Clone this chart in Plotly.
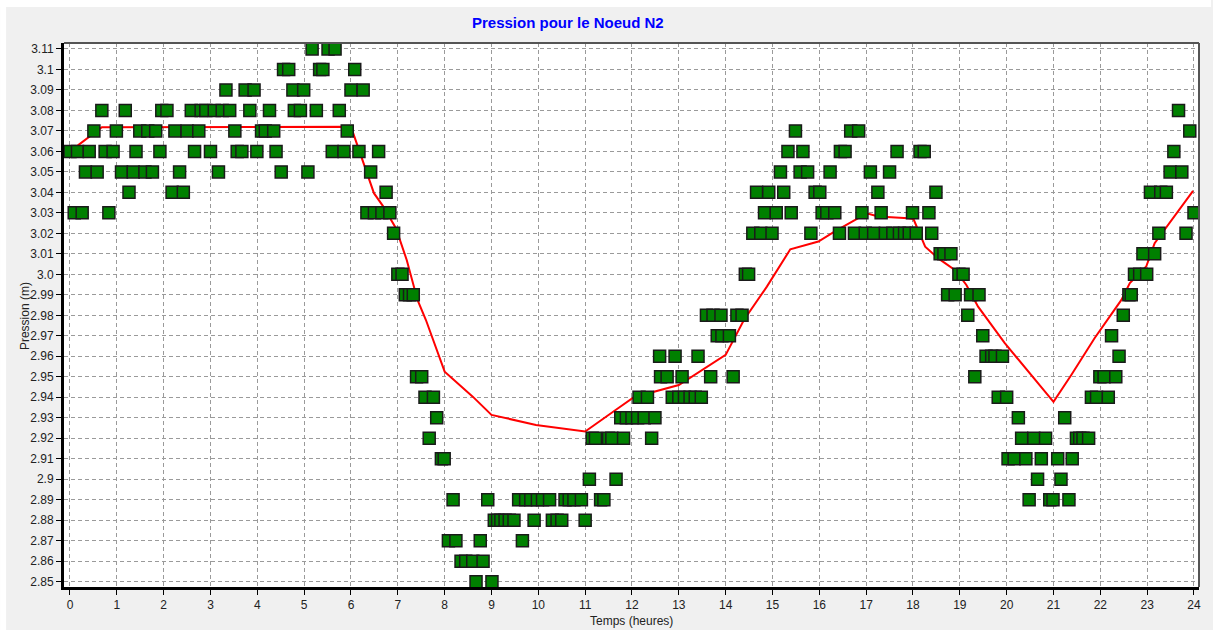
import plotly.graph_objects as go

# Measured pressure levels (m) and the hours at which each level was recorded
levels = [3.11, 3.10, 3.09, 3.08, 3.07, 3.06, 3.05, 3.04, 3.03, 3.02, 3.01, 3.00,
          2.99, 2.98, 2.97, 2.96, 2.95, 2.94, 2.93, 2.92, 2.91, 2.90, 2.89, 2.88,
          2.87, 2.86, 2.85]
hours_311 = [5.17, 5.51, 5.66]
hours_310 = [4.56, 4.67, 5.33, 5.40, 6.08]
hours_309 = [3.33, 3.74, 3.93, 4.76, 4.99, 6.00, 6.26]
hours_308 = [0.68, 1.18, 1.96, 2.07, 2.59, 2.80, 2.90, 3.08, 3.25, 3.41, 3.84, 4.26,
             4.79, 4.92, 5.26, 5.75, 23.67]
hours_307 = [0.51, 0.99, 1.49, 1.66, 1.83, 2.24, 2.50, 2.75, 3.52, 4.09, 4.17, 4.35,
             5.92, 15.49, 16.67, 16.84, 23.91]
hours_306 = [0.0, 0.16, 0.41, 0.75, 0.92, 1.41, 1.92, 2.66, 3.00, 3.57, 3.67, 3.99,
             4.40, 5.60, 5.85, 6.17, 6.59, 15.33, 15.65, 16.45, 16.55, 17.66, 18.15,
             18.24, 23.57]
hours_305 = [0.33, 0.58, 1.10, 1.35, 1.60, 1.76, 2.34, 3.17, 4.51, 5.08, 6.42, 15.17,
             15.59, 15.75, 16.23, 17.09, 17.50, 23.49, 23.74]
hours_304 = [1.26, 2.18, 2.42, 6.75, 14.66, 14.92, 15.24, 15.91, 16.01, 17.25, 18.49,
             23.07, 23.29, 23.41]
hours_303 = [0.09, 0.26, 0.83, 6.34, 6.50, 6.66, 6.83, 14.83, 15.08, 15.40, 16.06,
             16.16, 16.33, 16.91, 17.32, 17.99, 18.34, 24.0]
hours_302 = [6.91, 14.58, 14.75, 14.99, 15.82, 16.43, 16.75, 16.98, 17.16, 17.41,
             17.57, 17.71, 17.82, 17.92, 18.07, 18.40, 23.25, 23.83]
hours_301 = [18.58, 18.66, 18.81, 22.91, 23.16]
hours_300 = [7.00, 7.09, 14.42, 14.49, 18.98, 19.07, 22.73, 22.84, 22.99]
hours_299 = [7.16, 7.25, 7.33, 18.74, 18.90, 19.23, 19.41, 22.61, 22.66]
hours_298 = [13.59, 13.73, 13.90, 14.24, 14.35, 19.17, 22.49]
hours_297 = [13.82, 13.92, 14.08, 19.49, 22.24]
hours_296 = [12.59, 12.92, 13.41, 19.56, 19.68, 19.75, 19.91, 22.40]
hours_295 = [7.40, 7.51, 12.61, 12.75, 13.07, 13.68, 14.16, 19.32, 21.99, 22.08, 22.33]
hours_294 = [7.58, 7.76, 12.15, 12.33, 12.86, 13.00, 13.12, 13.24, 13.35, 13.48,
             19.82, 20.00, 21.81, 21.92, 22.17]
hours_293 = [7.83, 11.76, 11.88, 12.00, 12.12, 12.26, 12.49, 20.25, 21.24]
hours_292 = [7.67, 11.15, 11.22, 11.50, 11.57, 11.82, 12.42, 20.32, 20.58, 20.83,
             21.49, 21.56, 21.63, 21.75]
hours_291 = [7.93, 7.99, 20.03, 20.16, 20.41, 20.74, 21.09, 21.40]
hours_290 = [11.09, 11.66, 20.66, 21.16]
hours_289 = [8.18, 8.92, 9.58, 9.73, 9.84, 9.98, 10.09, 10.24, 10.57, 10.66, 10.76,
             10.92, 11.33, 11.40, 20.48, 20.92, 20.99, 21.33]
hours_288 = [9.06, 9.13, 9.20, 9.29, 9.38, 9.48, 9.91, 10.30, 10.40, 10.50, 11.00]
hours_287 = [8.08, 8.24, 8.76, 9.66]
hours_286 = [8.35, 8.45, 8.60, 8.82]
hours_285 = [8.67, 9.01]

# Simulated pressure curve
sim_t = [0.0, 0.43, 0.68, 6.0, 6.25, 6.49, 6.68, 6.96, 7.19, 7.42, 7.60, 8.0, 8.60,
         9.0, 9.95, 11.0, 11.65, 12.04, 13.0, 13.64, 14.0, 14.39, 14.88, 15.38,
         15.98, 16.34, 16.87, 17.05, 17.26, 17.90, 18.01, 18.26, 18.54, 18.90,
         19.14, 19.39, 19.96, 21.0, 21.38, 21.88, 22.20, 22.45, 22.63, 22.98,
         23.16, 23.66, 23.98]
sim_p = [3.060, 3.0676, 3.0718, 3.072, 3.0558, 3.0396, 3.0334, 3.0225, 3.007,
         2.9875, 2.9777, 2.9525, 2.9403, 2.9314, 2.9265, 2.9233, 2.9338, 2.940,
         2.946, 2.9553, 2.9607, 2.9777, 2.994, 3.0122, 3.016, 3.0211, 3.0279,
         3.0295, 3.0282, 3.0274, 3.027, 3.0135, 3.0078, 3.002, 2.9948, 2.9842,
         2.9664, 2.9378, 2.9509, 2.9689, 2.9794, 2.9875, 2.9957, 3.0038, 3.0152,
         3.0306, 3.0407]

x_ticks = list(range(0, 25))
y_ticks = [round(2.85 + 0.01 * i, 2) for i in range(27)]
y_tick_text = ["2.85", "2.86", "2.87", "2.88", "2.89", "2.9", "2.91", "2.92", "2.93",
               "2.94", "2.95", "2.96", "2.97", "2.98", "2.99", "3.0", "3.01", "3.02",
               "3.03", "3.04", "3.05", "3.06", "3.07", "3.08", "3.09", "3.1", "3.11"]

hour_groups = [hours_311, hours_310, hours_309, hours_308, hours_307, hours_306,
               hours_305, hours_304, hours_303, hours_302, hours_301, hours_300,
               hours_299, hours_298, hours_297, hours_296, hours_295, hours_294,
               hours_293, hours_292, hours_291, hours_290, hours_289, hours_288,
               hours_287, hours_286, hours_285]
obs_t, obs_p = [], []
for lvl, hrs in zip(levels, hour_groups):
    obs_t.extend(hrs)
    obs_p.extend([lvl] * len(hrs))

W, H = 1213, 630
ML, MR, MT, MB = 64, 12, 43, 43
PW, PH = W - ML - MR, H - MT - MB


def px_x(px):
    return (px - ML) / PW


def px_y(py):
    return (H - MB - py) / PH


FONT = "Liberation Sans, Arial, sans-serif"

fig = go.Figure()
fig.add_trace(go.Scatter(
    x=sim_t, y=sim_p, mode="lines",
    line=dict(color="#ff0000", width=2),
    hoverinfo="skip", showlegend=False,
))
fig.add_trace(go.Scatter(
    x=obs_t, y=obs_p, mode="markers",
    marker=dict(symbol="square", size=12, color="#008000",
                line=dict(color="#1a1a1a", width=1.5)),
    showlegend=False,
))

grid = dict(gridcolor="#9a9a9a", gridwidth=1, griddash="4px,3px")

fig.update_xaxes(
    range=[-0.128, 24.107], tickmode="array", tickvals=x_ticks,
    ticks="outside", ticklen=5, tickcolor="#000", tickwidth=1,
    showline=True, linecolor="#000", linewidth=3, zeroline=False,
    tickfont=dict(family=FONT, size=12, color="#222"),
    **grid,
)
fig.update_yaxes(
    range=[2.8474, 3.1129], tickmode="array", tickvals=y_ticks, ticktext=y_tick_text,
    ticks="outside", ticklen=5, tickcolor="#000", tickwidth=1,
    showline=True, linecolor="#000", linewidth=3, zeroline=False,
    tickfont=dict(family=FONT, size=12, color="#222"),
    **grid,
)

shapes = [
    # white margins around the grey panel
    dict(type="rect", xref="paper", yref="paper", x0=px_x(0), x1=px_x(W),
         y0=px_y(7), y1=px_y(0), fillcolor="#ffffff", line_width=0, layer="below"),
    dict(type="rect", xref="paper", yref="paper", x0=px_x(0), x1=px_x(6),
         y0=px_y(H), y1=px_y(0), fillcolor="#ffffff", line_width=0, layer="below"),
    # top and right frame of the plotting area
    dict(type="line", xref="paper", yref="paper", x0=0, x1=1, y0=1, y1=1,
         line=dict(color="#555555", width=2)),
    dict(type="line", xref="paper", yref="paper", x0=1, x1=1, y0=0, y1=1,
         line=dict(color="#555555", width=2)),
]

annotations = [
    dict(text="<b>Pression pour le Noeud N2</b>", xref="paper", yref="paper",
         x=px_x(569), y=px_y(23), xanchor="center", yanchor="middle",
         showarrow=False, font=dict(family=FONT, size=15, color="#0000ff")),
    dict(text="Temps (heures)", xref="paper", yref="paper",
         x=0.5, y=px_y(621), xanchor="center", yanchor="middle",
         showarrow=False, font=dict(family=FONT, size=12, color="#222")),
    dict(text="Pression (m)", xref="paper", yref="paper", textangle=-90,
         x=px_x(25), y=px_y(316), xanchor="center", yanchor="middle",
         showarrow=False, font=dict(family=FONT, size=12, color="#222")),
]

fig.update_layout(
    width=W, height=H,
    margin=dict(l=ML, r=MR, t=MT, b=MB, pad=0),
    paper_bgcolor="#f0f0f0", plot_bgcolor="#ffffff",
    shapes=shapes, annotations=annotations,
    showlegend=False,
)

fig.write_html("out.html")
